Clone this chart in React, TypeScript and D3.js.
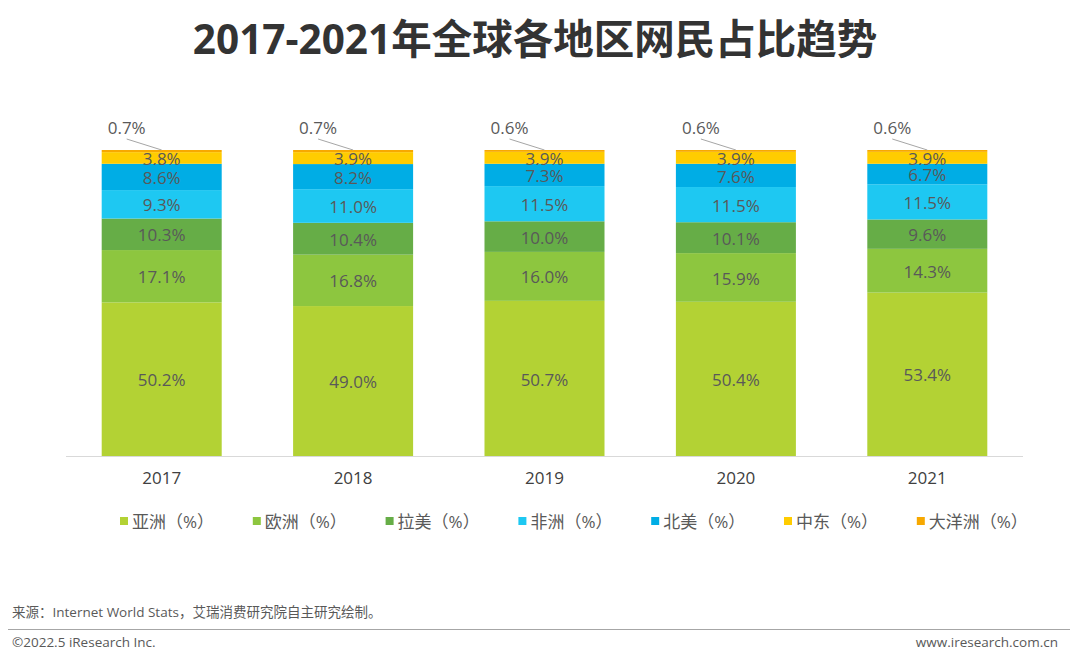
import React from "react";
import * as d3 from "d3";

const years = ["2017", "2018", "2019", "2020", "2021"];
const regions = ["亚洲（%）", "欧洲（%）", "拉美（%）", "非洲（%）", "北美（%）", "中东（%）", "大洋洲（%）"];
const asia = [50.2, 49.0, 50.7, 50.4, 53.4];
const europe = [17.1, 16.8, 16.0, 15.9, 14.3];
const latam = [10.3, 10.4, 10.0, 10.1, 9.6];
const africa = [9.3, 11.0, 11.5, 11.5, 11.5];
const northAmerica = [8.6, 8.2, 7.3, 7.6, 6.7];
const middleEast = [3.8, 3.9, 3.9, 3.9, 3.9];
const oceania = [0.7, 0.7, 0.6, 0.6, 0.6];
const colors = ["#b3d234", "#8dc63f", "#66ad47", "#1ec8f2", "#00ade5", "#ffcc00", "#f7a800"];

const series = [asia, europe, latam, africa, northAmerica, middleEast, oceania];
const FONT = "'Open Sans', 'Noto Sans CJK SC', sans-serif";

export default function App() {
  const W = 1080, H = 664;
  const x = d3.scaleBand<string>().domain(years).range([66, 1023]).paddingInner(0.373).paddingOuter(0.373 / 2);
  const y = d3.scaleLinear().domain([0, 100]).range([456, 150]);
  const table = years.map((yr, i) => {
    const row: any = { year: yr };
    regions.forEach((r, k) => (row[r] = series[k][i]));
    return row;
  });
  const stacked = d3.stack<any>().keys(regions)(table);
  const bw = x.bandwidth();

  return (
    <svg width={W} height={H} style={{ position: "absolute", left: 0, top: 0, background: "#fff" }} fontFamily={FONT}>
      <text x={535} y={54} textAnchor="middle" fontSize={40.5} fontWeight="bold" fill="#333333">
        2017-2021年全球各地区网民占比趋势
      </text>
      {stacked.map((s, k) => (
        <g key={k}>
          {s.map((d, i) => {
            const x0 = x(years[i])!;
            const top = y(d[1]);
            const bot = y(d[0]);
            return <rect key={i} x={x0} y={top} width={bw} height={bot - top} fill={colors[k]} />;
          })}
        </g>
      ))}
      {stacked.map((s, k) =>
        k < 6
          ? s.map((d, i) => (
              <text key={`l${k}-${i}`} x={x(years[i])! + bw / 2} y={(y(d[0]) + y(d[1])) / 2 + 1} dy="0.36em"
                textAnchor="middle" fontSize={17} fill="#595959">
                {series[k][i].toFixed(1)}%
              </text>
            ))
          : s.map((d, i) => {
              const cx = x(years[i])! + bw / 2;
              const top = y(d[1]);
              return (
                <g key={`o${i}`}>
                  <line x1={cx - 35} y1={top - 11} x2={cx} y2={top} stroke="#a6a6a6" strokeWidth={1} />
                  <text x={cx - 35} y={top - 22} dy="0.36em" textAnchor="middle" fontSize={17} fill="#595959">
                    {series[k][i].toFixed(1)}%
                  </text>
                </g>
              );
            })
      )}
      <line x1={66} x2={1023} y1={456.5} y2={456.5} stroke="#d9d9d9" strokeWidth={1} />
      {years.map((yr) => (
        <text key={yr} x={x(yr)! + bw / 2} y={484} textAnchor="middle" fontSize={17} fill="#404040">
          {yr}
        </text>
      ))}
      {regions.map((r, k) => {
        const lx = 120 + k * 132.8;
        return (
          <g key={r}>
            <rect x={lx} y={517} width={8} height={8} fill={colors[k]} />
            <text x={lx + 12} y={527.5} fontSize={17} fill="#595959">{r}</text>
          </g>
        );
      })}
      <text x={12} y={617} fontSize={13.5} fill="#595959">来源：Internet World Stats，艾瑞消费研究院自主研究绘制。</text>
      <line x1={8} x2={1070} y1={629.5} y2={629.5} stroke="#a6a6a6" strokeWidth={1} />
      <text x={12} y={647} fontSize={13.5} fill="#595959">©2022.5 iResearch Inc.</text>
      <text x={1058} y={647} textAnchor="end" fontSize={13.5} fill="#595959">www.iresearch.com.cn</text>
    </svg>
  );
}
